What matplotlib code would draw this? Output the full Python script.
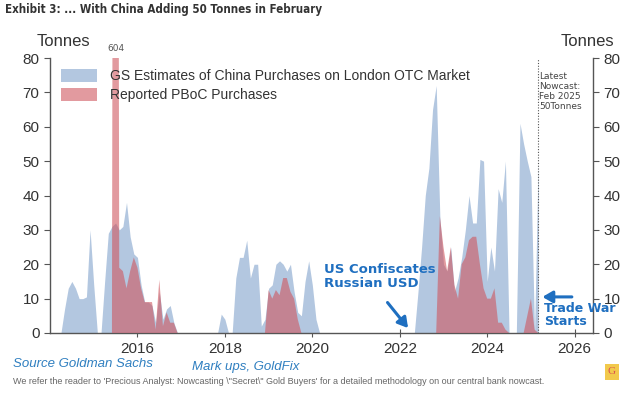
import matplotlib
matplotlib.use("Agg")
import matplotlib.pyplot as plt
import numpy as np
import pandas as pd

# ---------------- data (monthly, month-end) ----------------
start_month = "2014-01"
end_month = "2025-02"

gs_estimates = [
    # 2014
    0, 0, 0, 7, 13, 15, 13, 10, 10, 10.5, 30, 14,
    # 2015
    0, 0, 15, 29, 31, 32, 30, 31, 38, 28, 23, 22,
    # 2016
    14, 9, 9, 8, 3, 12, 4, 7, 8, 3, 0, 0,
    # 2017
    0, 0, 0, 0, 0, 0, 0, 0, 0, 0, 5.5, 4,
    # 2018
    0, 0, 16, 22, 22, 27, 16, 20, 20, 2, 4, 13,
    # 2019
    14, 20, 21, 20, 18, 20, 12, 6, 5, 15, 21, 14,
    # 2020
    4, 0, 0, 0, 0, 0, 0, 0, 0, 0, 0, 0,
    # 2021
    0, 0, 0, 0, 0, 0, 0, 0, 0, 0, 0, 0,
    # 2022
    0, 0, 0, 0, 12, 25, 40, 48, 65, 72, 34, 20,
    # 2023
    18, 25, 12, 16, 22, 30, 40, 32, 32, 50.5, 50, 15,
    # 2024
    25, 18, 42, 38, 50, 0, 0, 0, 61, 55, 50, 45.5,
    # 2025
    0, 50,
]

pboc_reported = [
    # 2014
    0, 0, 0, 0, 0, 0, 0, 0, 0, 0, 0, 0,
    # 2015
    0, 0, 0, 0, 0, 604, 19, 18, 13, 18, 22, 19,
    # 2016
    13, 9, 9, 9, 1, 15.5, 2, 6, 3, 3, 0, 0,
    # 2017
    0, 0, 0, 0, 0, 0, 0, 0, 0, 0, 0, 0,
    # 2018
    0, 0, 0, 0, 0, 0, 0, 0, 0, 0, 0, 12.5,
    # 2019
    10, 12.5, 11, 16, 16, 12, 10, 4, 0, 0, 0, 0,
    # 2020
    0, 0, 0, 0, 0, 0, 0, 0, 0, 0, 0, 0,
    # 2021
    0, 0, 0, 0, 0, 0, 0, 0, 0, 0, 0, 0,
    # 2022
    0, 0, 0, 0, 0, 0, 0, 0, 0, 0, 34, 25,
    # 2023
    18, 25, 14, 10, 20, 22, 27, 28, 28, 20, 13, 10,
    # 2024
    10, 13, 3, 3, 1, 0, 0, 0, 0, 0, 5, 10,
    # 2025
    1, 0,
]

series_labels = ["GS Estimates of China Purchases on London OTC Market",
                 "Reported PBoC Purchases"]
year_ticks = [2016, 2018, 2020, 2022, 2024, 2026]
y_ticks = [0, 10, 20, 30, 40, 50, 60, 70, 80]
spike_label = "604"
nowcast_text = "Latest\nNowcast:\nFeb 2025\n50Tonnes"

# ---------------- build x positions ----------------
dates = pd.date_range(start=start_month, end=pd.Period(end_month).end_time.normalize(), freq="ME")
xs = np.array([d.year + d.month / 12.0 for d in dates])
gs = np.array(gs_estimates, dtype=float)
pb = np.array(pboc_reported, dtype=float)
n = min(len(xs), len(gs), len(pb))
xs, gs, pb = xs[:n], gs[:n], pb[:n]

# ---------------- figure ----------------
W, H = 635, 396
fig = plt.figure(figsize=(W / 100, H / 100), dpi=100)
ax = fig.add_axes([50 / W, 1 - 333 / H, (593 - 50) / W, (333 - 58) / H])

blue = "#b3c7e0"
red = "#cf575f"
txt = "#333333"
annot_blue = "#1f6fc0"

ax.fill_between(xs, 0, gs, color=blue, linewidth=0, label=series_labels[0], zorder=2)
ax.fill_between(xs, 0, pb, color=red, alpha=0.6, linewidth=0, label=series_labels[1], zorder=3)

ax.set_xlim(2014.0, 2026.42)
ax.set_ylim(0, 80)
ax.set_xticks(year_ticks)
ax.set_xticklabels([str(y) for y in year_ticks])
ax.set_yticks(y_ticks)

ax.spines["top"].set_visible(False)
for s in ["left", "right", "bottom"]:
    ax.spines[s].set_color("#555555")
    ax.spines[s].set_linewidth(1.0)

ax.tick_params(axis="both", labelsize=11, colors="#555555", labelcolor=txt, length=4, width=0.8)
ax.tick_params(axis="x", direction="inout", length=6)
ax.tick_params(axis="y", left=True, right=True, labelleft=True, labelright=True, direction="out")
for lbl in ax.get_xticklabels() + ax.get_yticklabels():
    lbl.set_family("Liberation Sans")

# Tonnes labels
fig.text(63 / W, 1 - 42 / H, "Tonnes", ha="center", va="center", fontsize=12, color=txt,
         family="Liberation Sans")
fig.text(587 / W, 1 - 42 / H, "Tonnes", ha="center", va="center", fontsize=12, color=txt,
         family="Liberation Sans")

# Legend
leg = ax.legend(loc="upper left", bbox_to_anchor=(0.005, 0.99), frameon=False,
                handlelength=2.6, handleheight=1.1, handletextpad=0.9, labelspacing=0.3,
                borderaxespad=0.2, prop={"family": "Liberation Sans", "size": 10})
for t in leg.get_texts():
    t.set_color(txt)

# 604 label above clipped spike
spike_idx = int(np.argmax(pb))
ax.text(xs[spike_idx], 81.5, spike_label, ha="center", va="bottom", fontsize=6.5, color="#555555",
        clip_on=False)

# Latest nowcast line
last_x = xs[n - 1]
ax.axvline(last_x, color="#555555", linestyle=(0, (1, 1.5)), linewidth=0.8, zorder=4)
ax.text(last_x + 0.02, 76, nowcast_text, ha="left", va="top", fontsize=6.5, color="#444444",
        linespacing=1.15, zorder=5)

# Annotations
ax.text(2020.27, 16.5, "US Confiscates\nRussian USD", ha="left", va="center", fontsize=9.5,
        fontweight="bold", color=annot_blue, linespacing=1.05, zorder=6)
ax.annotate("", xy=(2022.23, 0.8), xytext=(2021.68, 9.5),
            arrowprops=dict(arrowstyle="-|>,head_length=0.6,head_width=0.35", color=annot_blue, lw=2.2),
            zorder=6)
ax.annotate("", xy=(2025.2, 10.5), xytext=(2026.0, 10.5),
            arrowprops=dict(arrowstyle="-|>,head_length=0.6,head_width=0.35", color=annot_blue, lw=2.2),
            zorder=6, annotation_clip=False)
ax.text(2025.3, 5.3, "Trade War\nStarts", ha="left", va="center", fontsize=9,
        fontweight="bold", color=annot_blue, linespacing=1.05, zorder=6, clip_on=False)

# Title
fig.text(5 / W, 1 - 10 / H, "Exhibit 3: ... With China Adding 50 Tonnes in February",
         ha="left", va="center", fontsize=8.3, fontweight="bold", color="#333333",
         family="DejaVu Sans", fontstretch="condensed")

# Source / markups
fig.text(13 / W, 1 - 364 / H, "Source Goldman Sachs", ha="left", va="center", fontsize=9.5,
         style="italic", color="#2f7fc0", family="Liberation Sans")
fig.text(192 / W, 1 - 367 / H, "Mark ups, GoldFix", ha="left", va="center", fontsize=9.5,
         style="italic", color="#2f7fc0", family="Liberation Sans")
fig.text(13 / W, 1 - 382 / H,
         "We refer the reader to 'Precious Analyst: Nowcasting \\\"Secret\\\" Gold Buyers' for a detailed methodology on our central bank nowcast.",
         ha="left", va="center", fontsize=6.5, color="#666666", family="Liberation Sans")

# small G logo
fig.patches.append(plt.Rectangle((605 / W, 1 - 380 / H), 14 / W, 16 / H, transform=fig.transFigure,
                                 facecolor="#f2c94c", edgecolor="none"))
fig.text(612 / W, 1 - 372 / H, "G", ha="center", va="center", fontsize=8, color="#d9534f",
         family="Liberation Serif")

fig.savefig("out.png", dpi=100)
